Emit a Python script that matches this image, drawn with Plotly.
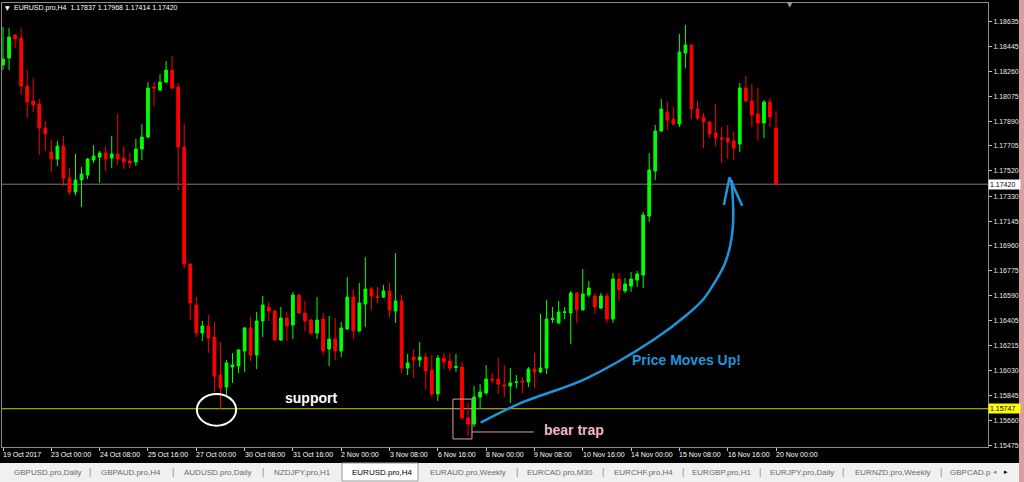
import plotly.graph_objects as go

# ---------------- data ----------------
symbol = "EURUSD.pro,H4"

opens = [
    1.18308, 1.18360, 1.18531, 1.18509, 1.18151, 1.18040, 1.18017, 1.17838, 1.17660, 1.17607,
    1.17704, 1.17466, 1.17362, 1.17451, 1.17488, 1.17600, 1.17622, 1.17652, 1.17615, 1.17645,
    1.17615, 1.17593, 1.17585, 1.17682, 1.17771, 1.18144, 1.18121, 1.18181, 1.18270, 1.18144,
    1.17697, 1.16825, 1.16520, 1.16311, 1.16363, 1.16281, 1.15998, 1.15909, 1.16058, 1.16065,
    1.16177, 1.16348, 1.16147, 1.16401, 1.16505, 1.16475, 1.16259, 1.16423, 1.16371, 1.16594,
    1.16460, 1.16408, 1.16311, 1.16415, 1.16192, 1.16266, 1.16177, 1.16341, 1.16579, 1.16326,
    1.16527, 1.16639, 1.16582, 1.16579, 1.16624, 1.16475, 1.16550, 1.16050, 1.16132, 1.16110,
    1.16132, 1.16035, 1.15857, 1.16125, 1.16103, 1.16054, 1.16058, 1.15678, 1.15633, 1.15834,
    1.15864, 1.15968, 1.15968, 1.15924, 1.15916, 1.15942, 1.15954, 1.15946, 1.16043, 1.16021,
    1.16050, 1.16412, 1.16386, 1.16464, 1.16460, 1.16609, 1.16483, 1.16594, 1.16587, 1.16497,
    1.16587, 1.16415, 1.16713, 1.16624, 1.16661, 1.16706, 1.16743, 1.17183, 1.17518, 1.17816,
    1.17958, 1.17905, 1.17868, 1.18397, 1.18457, 1.17980, 1.17920, 1.17883, 1.17801, 1.17764,
    1.17764, 1.17742, 1.17719, 1.18136, 1.18040, 1.17943, 1.17876, 1.18032, 1.17837]

highs = [
    1.18591, 1.18583, 1.18540, 1.18583, 1.18270, 1.18211, 1.18054, 1.17891, 1.17749, 1.17742,
    1.17779, 1.17540, 1.17645, 1.17548, 1.17615, 1.17712, 1.17667, 1.17704, 1.17779, 1.17943,
    1.17704, 1.17652, 1.17756, 1.17868, 1.18181, 1.18181, 1.18241, 1.18338, 1.18375, 1.18174,
    1.17868, 1.16833, 1.16579, 1.16401, 1.16445, 1.16393, 1.16244, 1.16110, 1.16162, 1.16190,
    1.16356, 1.16430, 1.16468, 1.16587, 1.16542, 1.16483, 1.16505, 1.16468, 1.16617, 1.16600,
    1.16550, 1.16415, 1.16579, 1.16460, 1.16438, 1.16423, 1.16393, 1.16728, 1.16639, 1.16684,
    1.16877, 1.16654, 1.16654, 1.16669, 1.16684, 1.16907, 1.16594, 1.16155, 1.16192, 1.16244,
    1.16162, 1.16147, 1.16147, 1.16162, 1.16162, 1.16155, 1.16095, 1.15790, 1.15916, 1.15931,
    1.16073, 1.16013, 1.16125, 1.16073, 1.16050, 1.15998, 1.15983, 1.16058, 1.16162, 1.16453,
    1.16557, 1.16505, 1.16550, 1.16505, 1.16624, 1.16617, 1.16788, 1.16699, 1.16609, 1.16609,
    1.16609, 1.16758, 1.16758, 1.16721, 1.16766, 1.16773, 1.17213, 1.17652, 1.17861, 1.18054,
    1.18032, 1.17995, 1.18539, 1.18606, 1.18462, 1.18040, 1.17950, 1.17891, 1.18017, 1.17846,
    1.17861, 1.17809, 1.18174, 1.18226, 1.18166, 1.18136, 1.18047, 1.18062, 1.17968]

lows = [
    1.18270, 1.18270, 1.18434, 1.18084, 1.17913, 1.17958, 1.17637, 1.17667, 1.17511, 1.17555,
    1.17406, 1.17339, 1.17339, 1.17250, 1.17458, 1.17578, 1.17429, 1.17518, 1.17540, 1.17563,
    1.17533, 1.17540, 1.17555, 1.17600, 1.17764, 1.18002, 1.18114, 1.18174, 1.18129, 1.17377,
    1.16795, 1.16408, 1.16281, 1.16252, 1.16162, 1.15872, 1.15747, 1.15849, 1.15939, 1.16013,
    1.16021, 1.16103, 1.16043, 1.16281, 1.16401, 1.16252, 1.16252, 1.16252, 1.16266, 1.16455,
    1.16326, 1.16296, 1.16266, 1.16147, 1.16065, 1.16110, 1.16132, 1.16334, 1.16266, 1.16319,
    1.16356, 1.16483, 1.16535, 1.16572, 1.16430, 1.16386, 1.16013, 1.15998, 1.15976, 1.16058,
    1.15887, 1.15834, 1.15805, 1.16043, 1.16028, 1.16021, 1.15663, 1.15544, 1.15611, 1.15752,
    1.15849, 1.15939, 1.15857, 1.15834, 1.15790, 1.15901, 1.15864, 1.15909, 1.15901, 1.16013,
    1.16006, 1.16386, 1.16378, 1.16415, 1.16229, 1.16386, 1.16480, 1.16579, 1.16453, 1.16490,
    1.16386, 1.16386, 1.16550, 1.16609, 1.16617, 1.16654, 1.16646, 1.17138, 1.17451, 1.17810,
    1.17824, 1.17861, 1.17846, 1.18285, 1.17905, 1.17898, 1.17689, 1.17764, 1.17704, 1.17578,
    1.17607, 1.17600, 1.17660, 1.18032, 1.17846, 1.17742, 1.17764, 1.17846, 1.17414]

closes = [
    1.18352, 1.18516, 1.18501, 1.18151, 1.18032, 1.18010, 1.17838, 1.17794, 1.17607, 1.17704,
    1.17466, 1.17362, 1.17451, 1.17496, 1.17607, 1.17630, 1.17652, 1.17607, 1.17645, 1.17607,
    1.17585, 1.17578, 1.17682, 1.17771, 1.18136, 1.18136, 1.18181, 1.18270, 1.18136, 1.17697,
    1.16825, 1.16535, 1.16311, 1.16363, 1.16274, 1.15991, 1.15901, 1.16088, 1.16073, 1.16185,
    1.16348, 1.16147, 1.16401, 1.16520, 1.16475, 1.16259, 1.16423, 1.16363, 1.16594, 1.16460,
    1.16401, 1.16311, 1.16408, 1.16177, 1.16266, 1.16177, 1.16348, 1.16579, 1.16326, 1.16535,
    1.16639, 1.16587, 1.16576, 1.16624, 1.16483, 1.16550, 1.16050, 1.16088, 1.16110, 1.16132,
    1.16028, 1.15857, 1.16125, 1.16095, 1.16050, 1.16062, 1.15678, 1.15633, 1.15834, 1.15872,
    1.15968, 1.15961, 1.15931, 1.15916, 1.15939, 1.15946, 1.15946, 1.16043, 1.16021, 1.16050,
    1.16415, 1.16419, 1.16468, 1.16468, 1.16609, 1.16483, 1.16602, 1.16646, 1.16505, 1.16587,
    1.16415, 1.16713, 1.16632, 1.16676, 1.16713, 1.16751, 1.17190, 1.17526, 1.17816, 1.17980,
    1.17898, 1.17868, 1.18405, 1.18457, 1.17980, 1.17913, 1.17883, 1.17794, 1.17764, 1.17756,
    1.17734, 1.17689, 1.18136, 1.18040, 1.17935, 1.17876, 1.18032, 1.17920, 1.17420]

x_tick_labels = ["19 Oct 2017", "23 Oct 00:00", "24 Oct 08:00", "25 Oct 16:00", "27 Oct 00:00",
                 "30 Oct 08:00", "31 Oct 16:00", "2 Nov 00:00", "3 Nov 08:00", "6 Nov 16:00",
                 "8 Nov 00:00", "9 Nov 08:00", "10 Nov 16:00", "14 Nov 00:00", "15 Nov 08:00",
                 "16 Nov 16:00", "20 Nov 00:00"]
bars_per_label = 8

y_tick_values = [1.18635, 1.18445, 1.18260, 1.18075, 1.17890, 1.17705, 1.17520, 1.17330, 1.17145,
                 1.16960, 1.16775, 1.16590, 1.16405, 1.16215, 1.16030, 1.15845, 1.15660, 1.15475]

support_price = 1.15747

tab_names = ["GBPUSD.pro,Daily", "GBPAUD.pro,H4", "AUDUSD.pro,Daily", "NZDJPY.pro,H1",
             "EURUSD.pro,H4", "EURAUD.pro,Weekly", "EURCAD.pro,M30", "EURCHF.pro,H4",
             "EURGBP.pro,H1", "EURJPY.pro,Daily", "EURNZD.pro,Weekly", "GBPCAD.p"]
active_tab = "EURUSD.pro,H4"

# blue hand-drawn arrow (bar index, price)
arrow_x = [79.09, 85.6, 96.64, 107.67, 113.2, 116.0, 118.0, 119.45, 120.4, 120.85, 120.91, 120.65]
arrow_y = [1.15643, 1.15787, 1.15974, 1.16259, 1.16445, 1.16565, 1.16700, 1.16820, 1.16960,
           1.17100, 1.17240, 1.17451]
head_x = [119.37, 120.28, 122.4]
head_y = [1.17265, 1.17470, 1.17260]

# ---------------- layout helpers ----------------
W, H = 1024, 482
ML, MR, MT, MB = 2, 36, 3, 35
PW, PH = W - ML - MR, H - MT - MB


def px_x(x):
    return (x - ML) / PW


def px_y(y):
    return (H - MB - y) / PH


FONT = "Liberation Sans"
BLUE = "#1e96dc"
PINK_LINE = "#d8a0a8"

n = len(closes)
xs = list(range(n))

fig = go.Figure()
fig.add_trace(go.Candlestick(
    x=xs, open=opens, high=highs, low=lows, close=closes,
    increasing=dict(line=dict(color="#00ff00", width=1), fillcolor="#00ff00"),
    decreasing=dict(line=dict(color="#ff0000", width=1), fillcolor="#ff0000"),
    whiskerwidth=0, hoverinfo="skip", showlegend=False))

fig.add_trace(go.Scatter(x=arrow_x, y=arrow_y, mode="lines",
                         line=dict(color=BLUE, width=2.5, shape="spline", smoothing=1.0),
                         hoverinfo="skip", showlegend=False))
fig.add_trace(go.Scatter(x=head_x, y=head_y, mode="lines",
                         line=dict(color=BLUE, width=2.5),
                         hoverinfo="skip", showlegend=False))

tick_idx = [i * bars_per_label for i in range(len(x_tick_labels))]

shapes = []
annotations = []

# bid line and support line
shapes.append(dict(type="line", xref="paper", x0=0, x1=1, yref="y", y0=closes[-1], y1=closes[-1],
                   line=dict(color="#7c7c7c", width=1), layer="below"))
shapes.append(dict(type="line", xref="paper", x0=0, x1=1, yref="y", y0=support_price, y1=support_price,
                   line=dict(color="#cccc00", width=1), layer="below"))

# white ellipse around the support touch
shapes.append(dict(type="circle", xref="x", yref="y", x0=32.1, x1=38.6, y0=1.15621, y1=1.15857,
                   line=dict(color="white", width=2)))
# bear trap box + leader
shapes.append(dict(type="rect", xref="x", yref="y", x0=74.5, x1=77.65, y0=1.15522, y1=1.15819,
                   line=dict(color=PINK_LINE, width=1)))
shapes.append(dict(type="line", xref="x", yref="y", x0=77.65, x1=87.9, y0=1.15574, y1=1.15574,
                   line=dict(color=PINK_LINE, width=1)))

annotations.append(dict(xref="x", yref="y", x=51.0, y=1.15827, text="<b>support</b>", showarrow=False,
                        font=dict(family=FONT, size=14, color="white")))
annotations.append(dict(xref="x", yref="y", x=94.5, y=1.15589, text="<b>bear trap</b>", showarrow=False,
                        font=dict(family=FONT, size=14, color="#f2b6c0")))
annotations.append(dict(xref="x", yref="y", x=113.2, y=1.16110, text="<b>Price Moves Up!</b>",
                        showarrow=False, font=dict(family=FONT, size=14, color=BLUE)))

# title
annotations.append(dict(xref="paper", yref="paper", x=px_x(3), y=px_y(8), xanchor="left", yanchor="middle",
                        text="▼", showarrow=False, font=dict(family="DejaVu Sans", size=6, color="white")))
title_txt = "%s\u00a0\u00a0%.5f %.5f %.5f %.5f" % (symbol, opens[-1], highs[-1], lows[-1], closes[-1])
annotations.append(dict(xref="paper", yref="paper", x=px_x(12), y=px_y(8), xanchor="left", yanchor="middle",
                        text=title_txt, showarrow=False, font=dict(family=FONT, size=7, color="white")))

# chart-shift marker at the top
annotations.append(dict(xref="paper", yref="paper", x=px_x(790), y=px_y(5), xanchor="center",
                        yanchor="middle", text="▼", showarrow=False,
                        font=dict(family="DejaVu Sans", size=7, color="#9a9a9a")))

# right-side price boxes
annotations.append(dict(xref="paper", yref="y", x=1, y=closes[-1], xanchor="left", yanchor="middle",
                        text="%.5f" % closes[-1], showarrow=False, bgcolor="white", borderpad=1,
                        width=29, align="left", font=dict(family=FONT, size=7, color="black")))
annotations.append(dict(xref="paper", yref="y", x=1, y=support_price, xanchor="left", yanchor="middle",
                        text="%.5f" % support_price, showarrow=False, bgcolor="#ffff00", borderpad=1,
                        width=29, align="left", font=dict(family=FONT, size=7, color="black")))

# x-axis labels (MT4 draws them to the right of the tick)
for i, lab in zip(tick_idx, x_tick_labels):
    annotations.append(dict(xref="x", yref="paper", x=i, y=0, xanchor="left", yanchor="top", yshift=-2,
                            xshift=-2, text=lab, showarrow=False,
                            font=dict(family=FONT, size=7, color="white")))

# tab bar
shapes.append(dict(type="rect", xref="paper", yref="paper", x0=px_x(0), x1=px_x(1019),
                   y0=px_y(482), y1=px_y(463), fillcolor="#f0f0f0", line=dict(width=0)))
shapes.append(dict(type="rect", xref="paper", yref="paper", x0=px_x(342), x1=px_x(418),
                   y0=px_y(481), y1=px_y(463), fillcolor="white", line=dict(color="#9a9a9a", width=1)))
shapes.append(dict(type="rect", xref="paper", yref="paper", x0=px_x(1019), x1=px_x(1024),
                   y0=px_y(482), y1=px_y(0), fillcolor="#d8a0a0", line=dict(width=0)))

tab_x = [12, 99, 182, 272, 350, 428, 525, 612, 690, 768, 853, 948]
sep_x = [90, 173, 263, 517, 603, 683, 760, 843, 941]
for name, tx in zip(tab_names, tab_x):
    annotations.append(dict(xref="paper", yref="paper", x=px_x(tx), y=px_y(472), xanchor="left",
                            yanchor="middle", text=name, showarrow=False,
                            font=dict(family=FONT, size=8,
                                      color="#000000" if name == active_tab else "#6a6a6a")))
for sx in sep_x:
    annotations.append(dict(xref="paper", yref="paper", x=px_x(sx), y=px_y(472), xanchor="center",
                            yanchor="middle", text="|", showarrow=False,
                            font=dict(family=FONT, size=9, color="#8a8a8a")))
annotations.append(dict(xref="paper", yref="paper", x=px_x(995), y=px_y(472), xanchor="center",
                        yanchor="middle", text="◂", showarrow=False,
                        font=dict(family="DejaVu Sans", size=7, color="#8a8a8a")))
annotations.append(dict(xref="paper", yref="paper", x=px_x(1006), y=px_y(472), xanchor="center",
                        yanchor="middle", text="▸", showarrow=False,
                        font=dict(family="DejaVu Sans", size=7, color="#000000")))

fig.update_layout(
    width=W, height=H,
    margin=dict(l=ML, r=MR, t=MT, b=MB, pad=0),
    paper_bgcolor="black", plot_bgcolor="black",
    boxgap=0.35,
    showlegend=False,
    shapes=shapes,
    annotations=annotations,
    xaxis=dict(range=[-0.17, 163.1], rangeslider=dict(visible=False), showgrid=False, zeroline=False,
               showline=True, mirror=True, linecolor="#8c8c8c", linewidth=1,
               tickmode="array", tickvals=tick_idx, ticks="outside", ticklen=3, tickcolor="#c8c8c8",
               showticklabels=False, fixedrange=True),
    yaxis=dict(range=[1.15462, 1.18770], side="right", showgrid=False, zeroline=False,
               showline=True, mirror=True, linecolor="#8c8c8c", linewidth=1,
               tickmode="array", tickvals=y_tick_values, ticktext=["%.5f" % v for v in y_tick_values],
               ticks="outside", ticklen=3, tickcolor="#c8c8c8",
               tickfont=dict(family=FONT, size=7, color="#e8e8e8"), fixedrange=True),
)

fig.write_html("out.html", config={"displayModeBar": False},
               post_script="document.body.style.margin='0px';document.body.style.overflow='hidden';")
